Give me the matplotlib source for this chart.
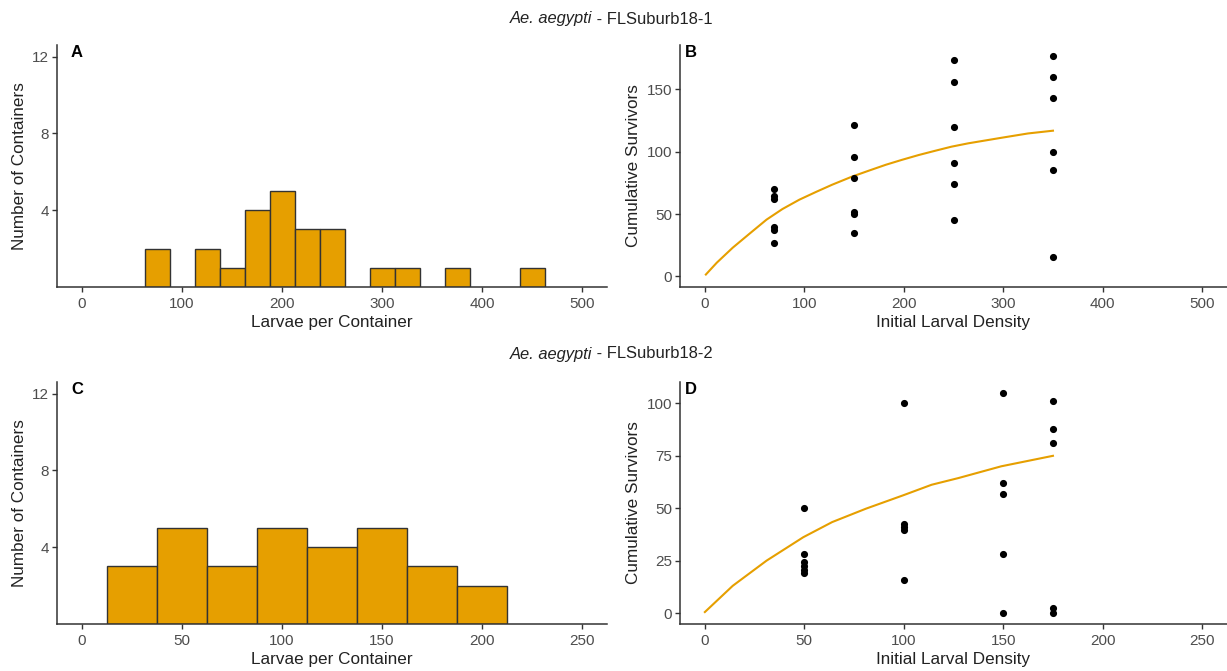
import matplotlib
matplotlib.use("Agg")
import matplotlib.pyplot as plt

plt.rcParams['font.family'] = ['Liberation Sans', 'DejaVu Sans']

# histogram A: bin centres (width 25) and counts
a_centers = [75, 125, 150, 175, 200, 225, 250, 300, 325, 375, 450]
a_counts = [2, 2, 1, 4, 5, 3, 3, 1, 1, 1, 1]

# histogram C
c_centers = [25, 50, 75, 100, 125, 150, 175, 200]
c_counts = [3, 5, 3, 5, 4, 5, 3, 2]

# scatter B
b_x = [70] * 6 + [150] * 6 + [250] * 6 + [350] * 6
b_y = [70, 64.5, 62, 39.5, 37.5, 27,
       121, 95.7, 78.6, 51.7, 50.4, 35,
       173.7, 156, 119.4, 91, 74.3, 45.3,
       176.4, 159.6, 142.8, 100, 85, 15.7]
# fitted curve
b_fit_x = [1, 12, 28, 45, 62, 78, 95, 112, 128, 148, 165, 182, 198, 215,
           232, 248, 265, 298, 325, 350]
b_fit_y = [1.5, 11, 23, 34.3, 45.5, 54, 61.5, 67.8, 73.5, 80, 84.8, 89.5,
           93.4, 97.3, 100.8, 104, 106.7, 111.1, 114.6, 116.8]

# scatter D
d_x = [50] * 6 + [100] * 5 + [150] * 5 + [175] * 5
d_y = [50, 28, 24.5, 22.5, 20.5, 19,
       100, 42.5, 41, 39.5, 16,
       105, 62, 57, 28, 0,
       101, 88, 81, 2.5, 0]
d_fit_x = [0, 14, 31, 49.5, 64, 81, 99.5, 114, 127.5, 149, 175]
d_fit_y = [0.5, 13, 25, 36.2, 43.4, 49.8, 56.1, 61.2, 64.4, 70, 75]

orange = '#E69F00'
axcol = '#333333'
tickcol = '#4D4D4D'

W, H = 1227, 671
fig = plt.figure(figsize=(W / 100, H / 100), dpi=100)


def box(l, t, r, b):
    return [l / W, 1 - b / H, (r - l) / W, (b - t) / H]


axA = fig.add_axes(box(57, 45, 607, 287))
axB = fig.add_axes(box(680, 45, 1227, 287))
axC = fig.add_axes(box(57, 382, 607, 624))
axD = fig.add_axes(box(680, 382, 1227, 624))


def style(ax):
    for s in ['top', 'right']:
        ax.spines[s].set_visible(False)
    for s in ['left', 'bottom']:
        ax.spines[s].set_color(axcol)
        ax.spines[s].set_linewidth(1.1)
    ax.tick_params(colors=axcol, labelcolor=tickcol, labelsize=11,
                   length=3.5, width=1, pad=2)
    ax.tick_params(axis='x', pad=3.5)


for ax in [axA, axB, axC, axD]:
    style(ax)

axA.bar(a_centers, a_counts, width=25, color=orange, edgecolor=axcol, linewidth=1)
axA.set_xlim(-25, 525)
axA.set_ylim(0, 12.6)
axA.set_xticks([0, 100, 200, 300, 400, 500])
axA.set_yticks([4, 8, 12])

axC.bar(c_centers, c_counts, width=25, color=orange, edgecolor=axcol, linewidth=1)
axC.set_xlim(-12.5, 262.5)
axC.set_ylim(0, 12.6)
axC.set_xticks([0, 50, 100, 150, 200, 250])
axC.set_yticks([4, 8, 12])

axB.scatter(b_x, b_y, s=17, color='black', zorder=3)
axB.plot(b_fit_x, b_fit_y, color=orange, lw=1.5)
axB.set_xlim(-25, 525)
axB.set_ylim(-8.5, 185.5)
axB.set_xticks([0, 100, 200, 300, 400, 500])
axB.set_yticks([0, 50, 100, 150])

axD.scatter(d_x, d_y, s=17, color='black', zorder=3)
axD.plot(d_fit_x, d_fit_y, color=orange, lw=1.5)
axD.set_xlim(-12.5, 262.5)
axD.set_ylim(-5.2, 110.2)
axD.set_xticks([0, 50, 100, 150, 200, 250])
axD.set_yticks([0, 25, 50, 75, 100])

for ax in [axA, axC]:
    ax.set_xlabel('Larvae per Container', fontsize=12.3, color='#222222', labelpad=3)
    ax.set_ylabel('Number of Containers', fontsize=12.3, color='#222222')
    ax.yaxis.set_label_coords(-0.054, 0.5)
for ax in [axB, axD]:
    ax.set_xlabel('Initial Larval Density', fontsize=12.3, color='#222222', labelpad=3)
    ax.set_ylabel('Cumulative Survivors', fontsize=12.3, color='#222222')
    ax.yaxis.set_label_coords(-0.072, 0.5)

for ax, letter, off in [(axA, 'A', 14), (axB, 'B', 5), (axC, 'C', 14), (axD, 'D', 5)]:
    w = ax.get_position().width * W
    ax.text(off / w, 1.0, letter, transform=ax.transAxes, ha='left', va='top',
            fontsize=12, fontweight='bold', color='black')

for yc, name in [(19, 'FLSuburb18-1'), (354, 'FLSuburb18-2')]:
    fig.text(592 / W, 1 - yc / H, 'Ae. aegypti', style='italic', fontsize=11.9,
             ha='right', va='center', color='#222222')
    fig.text(592 / W, 1 - yc / H, ' - ' + name, fontsize=11.9,
             ha='left', va='center', color='#222222')

fig.savefig('out.png', dpi=100)
